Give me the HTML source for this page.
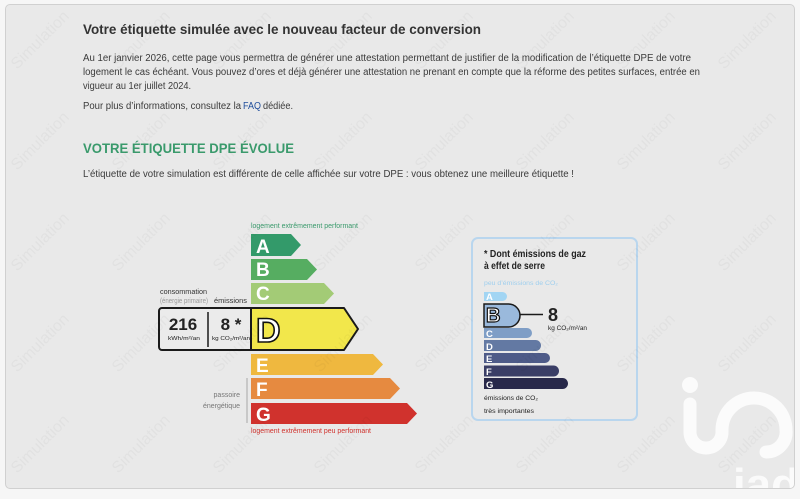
<!DOCTYPE html>
<html><head><meta charset="utf-8">
<style>
html,body{margin:0;padding:0;}
body{width:800px;height:499px;background:#f6f6f6;position:relative;overflow:hidden;font-family:"Liberation Sans",sans-serif;}
#card{position:absolute;left:5px;top:4px;width:788px;height:483px;border:1px solid #d0d0d0;border-radius:5px;background:#e9e9e9;overflow:hidden;}
#card svg{position:absolute;left:-6px;top:-5px;}
</style></head>
<body>
<div id="card">
<svg width="800" height="499" viewBox="0 0 800 499" xmlns="http://www.w3.org/2000/svg" font-family="Liberation Sans, sans-serif">
  <!-- header texts -->
  <text x="83" y="34" font-size="13.5" font-weight="bold" fill="#333" textLength="398" lengthAdjust="spacingAndGlyphs">Votre étiquette simulée avec le nouveau facteur de conversion</text>
  <g font-size="9.8" fill="#3a3a3a">
    <text x="83" y="61" textLength="608" lengthAdjust="spacingAndGlyphs">Au 1er janvier 2026, cette page vous permettra de générer une attestation permettant de justifier de la modification de l’étiquette DPE de votre</text>
    <text x="83" y="75" textLength="617" lengthAdjust="spacingAndGlyphs">logement le cas échéant. Vous pouvez d’ores et déjà générer une attestation ne prenant en compte que la réforme des petites surfaces, entrée en</text>
    <text x="83" y="89" textLength="108" lengthAdjust="spacingAndGlyphs">vigueur au 1er juillet 2024.</text>
    <text x="83" y="109" textLength="158" lengthAdjust="spacingAndGlyphs">Pour plus d’informations, consultez la</text>
    <text x="243" y="109" textLength="18" lengthAdjust="spacingAndGlyphs" fill="#1f4e9c">FAQ</text>
    <text x="263" y="109" textLength="30" lengthAdjust="spacingAndGlyphs">dédiée.</text>
    <text x="83" y="177" textLength="491" lengthAdjust="spacingAndGlyphs">L’étiquette de votre simulation est différente de celle affichée sur votre DPE : vous obtenez une meilleure étiquette !</text>
  </g>
  <text x="83" y="153" font-size="14" font-weight="bold" fill="#3a9a6c" textLength="211" lengthAdjust="spacingAndGlyphs">VOTRE ÉTIQUETTE DPE ÉVOLUE</text>

  <!-- main DPE label -->
  <text x="251" y="228" font-size="7" fill="#3a9a6c" textLength="107" lengthAdjust="spacingAndGlyphs">logement extrêmement performant</text>
  <polygon points="251,234 291,234 301,245 291,256 251,256" fill="#339a6a"/>
  <polygon points="251,259 307,259 317,269.5 307,280 251,280" fill="#56ad61"/>
  <polygon points="251,283 324,283 334,293.5 324,304 251,304" fill="#a3cb76"/>
  <rect x="159" y="308" width="100" height="42" rx="3" fill="#ebebeb" stroke="#1a1a1a" stroke-width="2"/>
  <polygon points="251,308 344,308 358,329 344,350 251,350" fill="#f2e74b" stroke="#1a1a1a" stroke-width="2" stroke-linejoin="round"/>
  <polygon points="251,354 373,354 383,364.5 373,375 251,375" fill="#efb83f"/>
  <polygon points="251,378 390,378 400,388.5 390,399 251,399" fill="#e68a40"/>
  <polygon points="251,403 407,403 417,413.5 407,424 251,424" fill="#d0322d"/>
  <g font-size="19" font-weight="bold" fill="#fff">
    <text x="256" y="253">A</text>
    <text x="256" y="276">B</text>
    <text x="256" y="300">C</text>
    <text x="256" y="372">E</text>
    <text x="256" y="396">F</text>
    <text x="256" y="421">G</text>
  </g>
  <text x="256" y="342" font-size="34" font-weight="bold" fill="#fff" stroke="#111" stroke-width="1.6">D</text>
  <text x="183" y="330" font-size="17" font-weight="bold" fill="#222" text-anchor="middle">216</text>
  <text x="184" y="340" font-size="5.8" fill="#222" text-anchor="middle" textLength="32" lengthAdjust="spacingAndGlyphs">kWh/m²/an</text>
  <line x1="208" y1="312" x2="208" y2="347" stroke="#1a1a1a" stroke-width="1.5"/>
  <text x="231" y="330" font-size="17" font-weight="bold" fill="#222" text-anchor="middle">8 *</text>
  <text x="212" y="340" font-size="5.8" fill="#222" textLength="38" lengthAdjust="spacingAndGlyphs">kg CO₂/m²/an</text>
  <text x="160" y="294" font-size="7" fill="#333" textLength="47" lengthAdjust="spacingAndGlyphs">consommation</text>
  <text x="160" y="303" font-size="7" fill="#9a9a9a" textLength="48" lengthAdjust="spacingAndGlyphs">(énergie primaire)</text>
  <text x="214" y="303" font-size="7" fill="#333" textLength="33" lengthAdjust="spacingAndGlyphs">émissions</text>
  <line x1="247" y1="378" x2="247" y2="423" stroke="#a8a8a8" stroke-width="1"/>
  <text x="240" y="397" font-size="7" fill="#777" text-anchor="end">passoire</text>
  <text x="240" y="408" font-size="7" fill="#777" text-anchor="end">énergétique</text>
  <text x="251" y="433" font-size="7" fill="#d0322d" textLength="120" lengthAdjust="spacingAndGlyphs">logement extrêmement peu performant</text>

  <!-- GES panel -->
  <rect x="472" y="238" width="165" height="182" rx="6" fill="none" stroke="#b9d6ee" stroke-width="2"/>
  <text x="484" y="257" font-size="10.5" font-weight="bold" fill="#222" textLength="102" lengthAdjust="spacingAndGlyphs">* Dont émissions de gaz</text>
  <text x="484" y="269" font-size="10.5" font-weight="bold" fill="#222" textLength="61" lengthAdjust="spacingAndGlyphs">à effet de serre</text>
  <text x="484" y="285" font-size="6.5" fill="#9fcfee" textLength="74" lengthAdjust="spacingAndGlyphs">peu d’émissions de CO₂</text>
  <path d="M484,292 H502.5 A4.5,4.5 0 0 1 502.5,301 H484 Z" fill="#a2d5f3"/>
  <path d="M484,304 H508.5 A11.5,11.5 0 0 1 508.5,327 H484 Z" fill="#9ab9dc" stroke="#1a1a1a" stroke-width="1.5"/>
  <path d="M484,328 H527 A5,5 0 0 1 527,338 H484 Z" fill="#7f9ec6"/>
  <path d="M484,340 H535.5 A5.5,5.5 0 0 1 535.5,351 H484 Z" fill="#6379a3"/>
  <path d="M484,353 H545 A5,5 0 0 1 545,363 H484 Z" fill="#4e5b88"/>
  <path d="M484,365.5 H553.5 A5.5,5.5 0 0 1 553.5,376.5 H484 Z" fill="#3a3e66"/>
  <path d="M484,378 H562.5 A5.5,5.5 0 0 1 562.5,389 H484 Z" fill="#28294a"/>
  <g font-size="9.5" font-weight="bold" fill="#fff">
    <text x="486" y="300">A</text>
    <text x="486" y="337">C</text>
    <text x="486" y="350">D</text>
    <text x="486" y="362">E</text>
    <text x="486" y="375">F</text>
    <text x="486" y="388">G</text>
  </g>
  <text x="486" y="322" font-size="20" font-weight="bold" fill="#fff" stroke="#111" stroke-width="1.2">B</text>
  <line x1="520" y1="314.5" x2="543" y2="314.5" stroke="#1a1a1a" stroke-width="1.5"/>
  <text x="548" y="321" font-size="18" font-weight="bold" fill="#222">8</text>
  <text x="548" y="330" font-size="6" fill="#222" textLength="39" lengthAdjust="spacingAndGlyphs">kg CO₂/m²/an</text>
  <text x="484" y="400" font-size="6.8" fill="#222" textLength="54" lengthAdjust="spacingAndGlyphs">émissions de CO₂</text>
  <text x="484" y="413" font-size="6.8" fill="#222" textLength="50" lengthAdjust="spacingAndGlyphs">très importantes</text>

  <!-- iad logo -->
  <g opacity="0.8" fill="none" stroke="#fff" stroke-width="13" stroke-linecap="round">
    <path d="M690,404 V432 A16,16 0 0 0 722,432 V430 A32,32 0 0 1 786,430 A20,20 0 0 1 766,452"/>
  </g>
  <circle cx="690" cy="385" r="8" fill="#fff" opacity="0.8"/>
  <text x="733" y="499" font-size="44" font-weight="bold" fill="#fff" opacity="0.8" textLength="66" lengthAdjust="spacingAndGlyphs">iad</text>

  <!-- watermark -->
  <g font-size="16" fill="#000" opacity="0.035" text-anchor="middle">
    <text transform="translate(40,40) rotate(-45)" y="5">Simulation</text>
    <text transform="translate(141,40) rotate(-45)" y="5">Simulation</text>
    <text transform="translate(242,40) rotate(-45)" y="5">Simulation</text>
    <text transform="translate(343,40) rotate(-45)" y="5">Simulation</text>
    <text transform="translate(444,40) rotate(-45)" y="5">Simulation</text>
    <text transform="translate(545,40) rotate(-45)" y="5">Simulation</text>
    <text transform="translate(646,40) rotate(-45)" y="5">Simulation</text>
    <text transform="translate(747,40) rotate(-45)" y="5">Simulation</text>
    <text transform="translate(40,141) rotate(-45)" y="5">Simulation</text>
    <text transform="translate(141,141) rotate(-45)" y="5">Simulation</text>
    <text transform="translate(242,141) rotate(-45)" y="5">Simulation</text>
    <text transform="translate(343,141) rotate(-45)" y="5">Simulation</text>
    <text transform="translate(444,141) rotate(-45)" y="5">Simulation</text>
    <text transform="translate(545,141) rotate(-45)" y="5">Simulation</text>
    <text transform="translate(646,141) rotate(-45)" y="5">Simulation</text>
    <text transform="translate(747,141) rotate(-45)" y="5">Simulation</text>
    <text transform="translate(40,242) rotate(-45)" y="5">Simulation</text>
    <text transform="translate(141,242) rotate(-45)" y="5">Simulation</text>
    <text transform="translate(242,242) rotate(-45)" y="5">Simulation</text>
    <text transform="translate(343,242) rotate(-45)" y="5">Simulation</text>
    <text transform="translate(444,242) rotate(-45)" y="5">Simulation</text>
    <text transform="translate(545,242) rotate(-45)" y="5">Simulation</text>
    <text transform="translate(646,242) rotate(-45)" y="5">Simulation</text>
    <text transform="translate(747,242) rotate(-45)" y="5">Simulation</text>
    <text transform="translate(40,343) rotate(-45)" y="5">Simulation</text>
    <text transform="translate(141,343) rotate(-45)" y="5">Simulation</text>
    <text transform="translate(242,343) rotate(-45)" y="5">Simulation</text>
    <text transform="translate(343,343) rotate(-45)" y="5">Simulation</text>
    <text transform="translate(444,343) rotate(-45)" y="5">Simulation</text>
    <text transform="translate(545,343) rotate(-45)" y="5">Simulation</text>
    <text transform="translate(646,343) rotate(-45)" y="5">Simulation</text>
    <text transform="translate(747,343) rotate(-45)" y="5">Simulation</text>
    <text transform="translate(40,444) rotate(-45)" y="5">Simulation</text>
    <text transform="translate(141,444) rotate(-45)" y="5">Simulation</text>
    <text transform="translate(242,444) rotate(-45)" y="5">Simulation</text>
    <text transform="translate(343,444) rotate(-45)" y="5">Simulation</text>
    <text transform="translate(444,444) rotate(-45)" y="5">Simulation</text>
    <text transform="translate(545,444) rotate(-45)" y="5">Simulation</text>
    <text transform="translate(646,444) rotate(-45)" y="5">Simulation</text>
    <text transform="translate(747,444) rotate(-45)" y="5">Simulation</text>
  </g>
</svg>
</div>
</body></html>
